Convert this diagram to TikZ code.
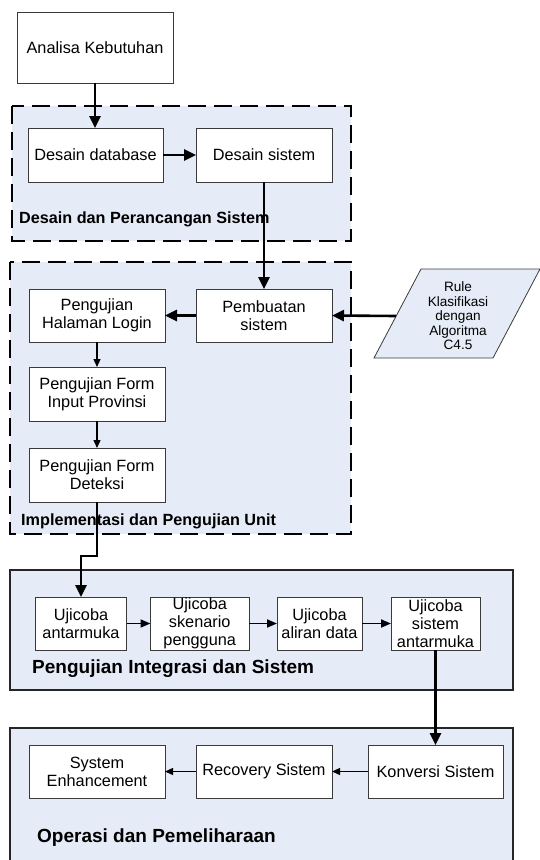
\documentclass[tikz,border=0pt]{standalone}
\usepackage{fontspec}
\setmainfont{Liberation Sans}
\usetikzlibrary{arrows.meta,calc}
\definecolor{regfill}{HTML}{E6ECF7}
\definecolor{boxline}{HTML}{3A3A3A}
\begin{document}
\begin{tikzpicture}[x=1pt,y=-1pt,
  box/.style={draw=boxline,line width=0.8pt,fill=white,inner sep=0pt,outer sep=0pt,align=center,font=\fontsize{16.3}{18}\selectfont},
  region/.style={fill=regfill},
  dregion/.style={region,draw=black,line width=1.8pt,dash pattern=on 18pt off 8pt},
  sregion/.style={region,draw=black!85,line width=1.8pt},
  bigarrow/.style={line width=2.6pt,-{Triangle[length=12pt,width=11pt]}},
  midarrow/.style={line width=1.8pt,-{Triangle[length=10pt,width=8pt]}},
  smallarrow/.style={line width=1.3pt,-{Triangle[length=8pt,width=7pt]}},
  lab/.style={anchor=west,inner sep=0pt,font=\bfseries\fontsize{16.2}{18}\selectfont},
  biglab/.style={anchor=west,inner sep=0pt,font=\bfseries\fontsize{19}{22}\selectfont}]
\clip (0,0) rectangle (540,860);

% phase regions
\path[dregion] (12,106) rectangle (351,241);
\path[dregion] (10,262) rectangle (351,534);
\path[sregion] (10,570) rectangle (513,690);
\path[sregion] (10,728) rectangle (513,880);

% input parallelogram
\filldraw[fill=regfill,draw=boxline,line width=0.8pt] (374,358) -- (421,269) -- (540,269) -- (493,358) -- cycle;
\node[inner sep=0pt,align=center,font=\fontsize{13.6}{14.5}\selectfont] (rule) at (458,316) {Rule\\Klasifikasi\\dengan\\Algoritma\\C4.5};
\coordinate (ruleL) at (396,316);

% boxes
\node[box,minimum width=156pt,minimum height=71pt] (ana) at (95,47.5) {Analisa Kebutuhan};
\node[box,minimum width=135pt,minimum height=54pt] (db) at (95.5,155) {Desain database};
\node[box,minimum width=136pt,minimum height=54pt] (ds) at (264,155) {Desain sistem};
\node[box,minimum width=136pt,minimum height=53pt] (pem) at (264,315.5) {Pembuatan\\sistem};
\node[box,minimum width=136pt,minimum height=53pt] (login) at (97,315.5) {Pengujian\\Halaman Login};
\node[box,minimum width=136pt,minimum height=54pt] (prov) at (97,394) {Pengujian Form\\Input Provinsi};
\node[box,minimum width=136pt,minimum height=54pt] (det) at (97,475) {Pengujian Form\\Deteksi};

\node[box,minimum width=91pt,minimum height=53pt] (u1) at (81,623.5) {Ujicoba\\antarmuka};
\node[box,minimum width=98.5pt,minimum height=53pt] (u2) at (199.75,623.5) {Ujicoba\\skenario\\pengguna};
\node[box,minimum width=85pt,minimum height=53pt] (u3) at (319.5,623.5) {Ujicoba\\aliran data};
\node[box,minimum width=89pt,minimum height=53pt] (u4) at (435.5,623.5) {Ujicoba\\sistem\\antarmuka};

\node[box,minimum width=136pt,minimum height=53pt] (se) at (97,771.5) {System\\Enhancement};
\node[box,minimum width=136pt,minimum height=53pt] (rec) at (264,771.5) {Recovery Sistem};
\node[box,minimum width=135pt,minimum height=53pt] (kon) at (435.5,771.5) {Konversi Sistem};

% labels
\node[lab] (l1) at (19,219) {Desain dan Perancangan Sistem};
\node[lab] (l2) at (21,521) {Implementasi dan Pengujian Unit};
\node[biglab] (l3) at (32,669) {Pengujian Integrasi dan Sistem};
\node[biglab] (l4) at (37,838) {Operasi dan Pemeliharaan};

% connectors
\draw[bigarrow] (ana.south) -- (ana.south |- db.north);
\draw[bigarrow] (db.east) -- (ds.west);
\draw[bigarrow] (ds.south) -- (pem.north);
\draw[bigarrow] (ruleL) -- (pem.east);
\draw[bigarrow] (pem.west) -- (login.east);
\draw[smallarrow] (login.south) -- (prov.north);
\draw[smallarrow] (prov.south) -- (det.north);
\draw[bigarrow] (det.south) -- ++(0,54) -| (u1.north);
\draw[midarrow] (u1.east) -- (u2.west);
\draw[midarrow] (u2.east) -- (u3.west);
\draw[midarrow] (u3.east) -- (u4.west);
\draw[bigarrow] (u4.south) -- (kon.north);
\draw[smallarrow] (kon.west) -- (rec.east);
\draw[smallarrow] (rec.west) -- (se.east);
\end{tikzpicture}
\end{document}
